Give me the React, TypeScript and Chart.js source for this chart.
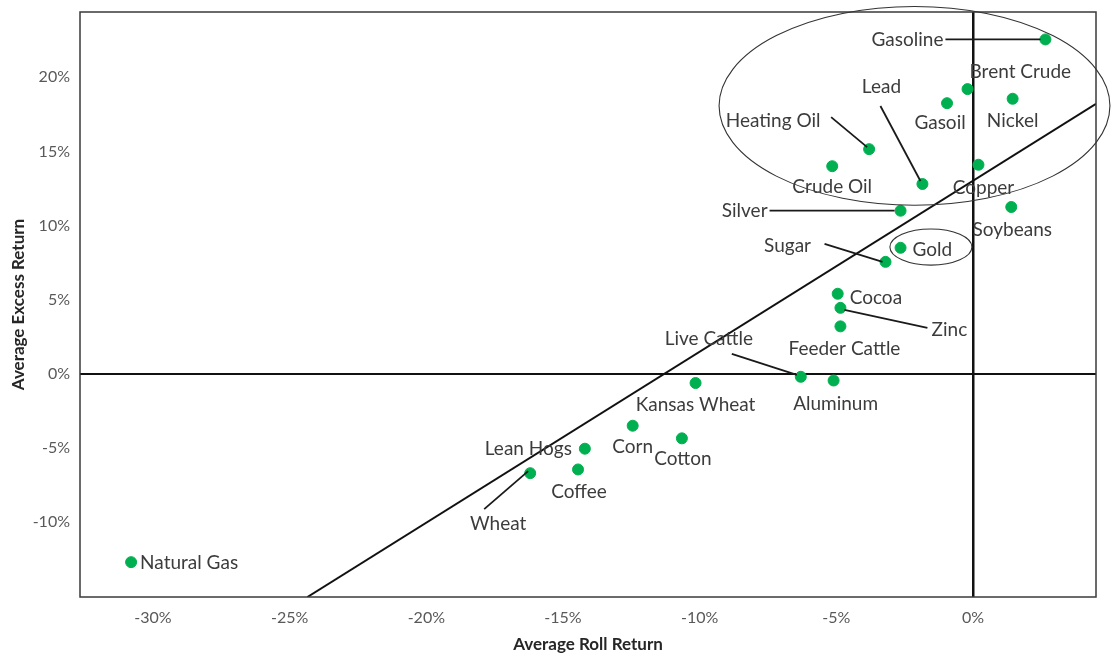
import React, { useEffect, useRef } from "react";
import { Chart, registerables } from "chart.js";
Chart.register(...registerables);

const commodities = [
  "Natural Gas", "Wheat", "Lean Hogs", "Coffee", "Corn", "Cotton", "Kansas Wheat",
  "Live Cattle", "Aluminum", "Feeder Cattle", "Zinc", "Cocoa", "Sugar", "Gold",
  "Silver", "Soybeans", "Copper", "Lead", "Crude Oil", "Heating Oil", "Gasoil",
  "Nickel", "Brent Crude", "Gasoline",
];
const rollReturn = [
  -30.8, -16.2, -14.2, -14.45, -12.45, -10.65, -10.15,
  -6.3, -5.1, -4.85, -4.85, -4.95, -3.2, -2.65,
  -2.65, 1.4, 0.2, -1.85, -5.15, -3.8, -0.95,
  1.45, -0.2, 2.65,
];
const excessReturn = [
  -12.7, -6.7, -5.05, -6.45, -3.5, -4.35, -0.62,
  -0.2, -0.45, 3.2, 4.45, 5.4, 7.55, 8.5,
  11.0, 11.25, 14.1, 12.8, 14.0, 15.15, 18.25,
  18.55, 19.2, 22.55,
];
const trendX = [-24.35, 4.5];
const trendY = [-15.05, 18.2];
const xTickValues = [-30, -25, -20, -15, -10, -5, 0];
const yTickValues = [-10, -5, 0, 5, 10, 15, 20];
const ellipseCenterX = [-2.14, -1.54];
const ellipseCenterY = [18.07, 8.55];
const ellipseRadiusX = [7.15, 1.5];
const ellipseRadiusY = [6.7, 1.22];

// label placement (pixel offsets from the point) and leader lines
const labelPlacement: [number, number, CanvasTextAlign][] = [
  [9, 1, "left"], [-32, 51, "center"], [-13, 0, "right"], [1, 22, "center"],
  [0, 21, "center"], [1, 21, "center"], [0, 22, "center"], [-92, -38, "center"],
  [2, 23, "center"], [4, 23, "center"], [109, 22, "center"], [12, 4, "left"],
  [-98, -16, "center"], [12, 2, "left"], [-133, 0, "right"], [1, 23, "center"],
  [5, 23, "center"], [-41, -97, "center"], [0, 21, "center"], [-96, -28, "center"],
  [-7, 20, "center"], [0, 22, "center"], [2, -17, "left"], [-102, 0, "right"],
];
const leaders: (number[] | null)[] = [
  null, [-46, 36, -2, -2], null, null, null, null, null, [-69, -23, -4, -2],
  null, null, [4, 2, 87, 20], null, [-61, -18, -3, 0], null, [-131, 0, -6, 0], null,
  null, [-42, -78, -2, -3], null, [-38, -32, -2, -2], null, null, null, [-100, 0, -5, 0],
];

const overlayPlugin = {
  id: "overlay",
  afterDatasetsDraw(chart: any) {
    const { ctx, chartArea, scales } = chart;
    const x = scales.x, y = scales.y;
    ctx.save();
    ctx.strokeStyle = "#3a3a3a";
    ctx.lineWidth = 1.5;
    ctx.strokeRect(chartArea.left, chartArea.top, chartArea.right - chartArea.left, chartArea.bottom - chartArea.top);
    ctx.strokeStyle = "#333";
    ctx.lineWidth = 1.1;
    for (let i = 0; i < ellipseCenterX.length; i++) {
      const cx = x.getPixelForValue(ellipseCenterX[i]);
      const cy = y.getPixelForValue(ellipseCenterY[i]);
      const rx = Math.abs(x.getPixelForValue(ellipseCenterX[i] + ellipseRadiusX[i]) - cx);
      const ry = Math.abs(y.getPixelForValue(ellipseCenterY[i] + ellipseRadiusY[i]) - cy);
      ctx.beginPath();
      ctx.ellipse(cx, cy, rx, ry, 0, 0, Math.PI * 2);
      ctx.stroke();
    }
    ctx.strokeStyle = "#1a1a1a";
    ctx.lineWidth = 1.8;
    for (let i = 0; i < commodities.length; i++) {
      const l = leaders[i];
      if (!l) continue;
      const px = x.getPixelForValue(rollReturn[i]);
      const py = y.getPixelForValue(excessReturn[i]);
      ctx.beginPath();
      ctx.moveTo(px + l[0], py + l[1]);
      ctx.lineTo(px + l[2], py + l[3]);
      ctx.stroke();
    }
    ctx.font = "19px Lato";
    ctx.fillStyle = "#3c3c3c";
    ctx.textBaseline = "middle";
    for (let i = 0; i < commodities.length; i++) {
      const px = x.getPixelForValue(rollReturn[i]);
      const py = y.getPixelForValue(excessReturn[i]);
      const [dx, dy, align] = labelPlacement[i];
      ctx.textAlign = align;
      ctx.fillText(commodities[i], px + dx, py + dy);
    }
    ctx.restore();
  },
};

export default function App() {
  const ref = useRef<HTMLCanvasElement>(null);
  useEffect(() => {
    document.body.style.margin = "0";
    const chart = new Chart(ref.current!, {
      data: {
        datasets: [
          {
            type: "scatter",
            data: rollReturn.map((v, i) => ({ x: v, y: excessReturn[i] })),
            backgroundColor: "#00B050",
            borderColor: "#00B050",
            pointRadius: 5.5,
            order: 0,
          },
          {
            type: "line",
            data: trendX.map((v, i) => ({ x: v, y: trendY[i] })),
            borderColor: "#111",
            borderWidth: 2,
            pointRadius: 0,
            order: 1,
          },
        ],
      } as any,
      options: {
        animation: false,
        responsive: false,
        events: [],
        layout: { padding: { top: 12, right: 18, bottom: 0, left: 0 } },
        plugins: { legend: { display: false }, tooltip: { enabled: false } },
        scales: {
          x: {
            type: "linear",
            min: -32.67,
            max: 4.5,
            afterFit: (s: any) => { s.height = 60; s.paddingLeft = 0; s.paddingRight = 0; },
            afterBuildTicks: (s: any) => { s.ticks = xTickValues.map((v) => ({ value: v })); },
            ticks: {
              callback: (v: any) => v + "%",
              color: "#595959",
              font: { family: "Lato", size: 16 },
              padding: 11,
              maxRotation: 0,
            },
            grid: {
              drawTicks: false,
              color: (c: any) => (c.tick && c.tick.value === 0 ? "#111" : "rgba(0,0,0,0)"),
              lineWidth: (c: any) => (c.tick && c.tick.value === 0 ? 2.5 : 0),
            },
            border: { display: false },
            title: {
              display: true,
              text: "Average Roll Return",
              color: "#262626",
              font: { family: "Lato", size: 17, weight: "bold" },
              padding: { top: 0, bottom: 2 },
            },
          },
          y: {
            type: "linear",
            min: -15.05,
            max: 24.4,
            afterFit: (s: any) => { s.width = 80; s.paddingTop = 0; s.paddingBottom = 0; },
            afterBuildTicks: (s: any) => { s.ticks = yTickValues.map((v) => ({ value: v })); },
            ticks: {
              callback: (v: any) => v + "%",
              color: "#595959",
              font: { family: "Lato", size: 16 },
              padding: 10,
            },
            grid: {
              drawTicks: false,
              color: (c: any) => (c.tick && c.tick.value === 0 ? "#111" : "rgba(0,0,0,0)"),
              lineWidth: (c: any) => (c.tick && c.tick.value === 0 ? 2 : 0),
            },
            border: { display: false },
            title: {
              display: true,
              text: "Average Excess Return",
              color: "#262626",
              font: { family: "Lato", size: 17, weight: "bold" },
              padding: { top: 8, bottom: 0 },
            },
          },
        },
      } as any,
      plugins: [overlayPlugin],
    });
    return () => chart.destroy();
  }, []);
  return (
    <div style={{ position: "fixed", left: 0, top: 0, width: 1114, height: 657 }}>
      <canvas ref={ref} width={1114} height={657} />
    </div>
  );
}
